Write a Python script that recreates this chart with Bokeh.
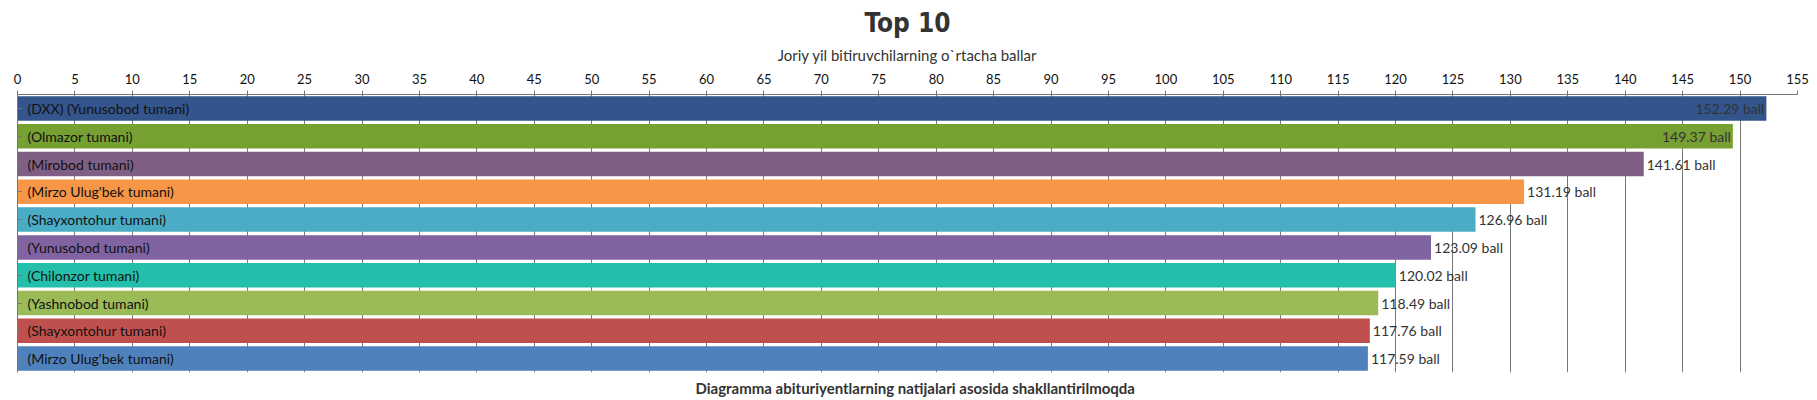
from bokeh.plotting import figure
from bokeh.models import ColumnDataSource, Range1d, SingleIntervalTicker, FixedTicker, Title
from bokeh.core.properties import value
from bokeh.embed import file_html
from bokeh.resources import INLINE

# ---- data (top to bottom) ----
names = [
    "(DXX) (Yunusobod tumani)",
    "(Olmazor tumani)",
    "(Mirobod tumani)",
    "(Mirzo Ulug'bek tumani)",
    "(Shayxontohur tumani)",
    "(Yunusobod tumani)",
    "(Chilonzor tumani)",
    "(Yashnobod tumani)",
    "(Shayxontohur tumani)",
    "(Mirzo Ulug'bek tumani)",
]
scores = [152.29, 149.37, 141.61, 131.19, 126.96, 123.09, 120.02, 118.49, 117.76, 117.59]
colors = ["#33558B", "#77A033", "#7F6084", "#F79647", "#4AACC5",
          "#8064A1", "#23BFAA", "#9BBB58", "#C0504E", "#4F81BC"]
unit = "ball"
title_text = "Top 10"
axis_title = "Joriy yil bitiruvchilarning o`rtacha ballar"
footer_text = "Diagramma abituriyentlarning natijalari asosida shakllantirilmoqda"
x_max = 155

n = len(names)
ypos = [n - 1 - i for i in range(n)]
labels = [f"{v:.2f} {unit}" for v in scores]
inside = [v + 6.6 > x_max for v in scores]

src = ColumnDataSource(dict(y=ypos, v=scores, name=names, color=colors, lab=labels))
src_in = ColumnDataSource(dict(y=[ypos[i] for i in range(n) if inside[i]],
                               v=[scores[i] for i in range(n) if inside[i]],
                               lab=[labels[i] for i in range(n) if inside[i]]))
src_out = ColumnDataSource(dict(y=[ypos[i] for i in range(n) if not inside[i]],
                                v=[scores[i] for i in range(n) if not inside[i]],
                                lab=[labels[i] for i in range(n) if not inside[i]]))

p = figure(width=1817, height=400, output_backend="svg", toolbar_location=None,
           x_range=Range1d(0, x_max), y_range=Range1d(-0.5, n - 0.5),
           x_axis_location="above",
           min_border_left=17, min_border_right=20, min_border_top=93, min_border_bottom=28)
p.outline_line_color = None
p.background_fill_color = "white"
p.border_fill_color = "white"

# title
p.title.text = title_text
p.title.align = "center"
p.title.text_font = "DejaVu Sans Condensed"
p.title.text_font_size = "26px"
p.title.text_font_style = "bold"
p.title.text_color = "#333333"
p.title.standoff = 10

# top value axis
xa = p.xaxis[0]
xa.ticker = SingleIntervalTicker(interval=5, num_minor_ticks=0)
xa.axis_label = axis_title
xa.axis_label_text_font = "Lato"
xa.axis_label_text_font_size = "15px"
xa.axis_label_text_font_style = "normal"
xa.axis_label_text_color = "#333333"
xa.axis_label_standoff = 7
xa.major_label_text_font = "Lato"
xa.major_label_text_font_size = "13px"
xa.major_label_text_color = "#111111"
xa.major_label_standoff = 7
xa.major_tick_out = 4
xa.major_tick_in = 0
xa.minor_tick_out = 0
xa.minor_tick_in = 0
xa.axis_line_color = "#777777"
xa.major_tick_line_color = "#777777"

# left category axis (line and inner ticks only)
ya = p.yaxis[0]
ya.ticker = FixedTicker(ticks=ypos)
ya.major_label_text_font_size = "1px"
ya.major_label_text_color = None
ya.major_label_standoff = 0
ya.major_tick_in = 4
ya.major_tick_out = 0
ya.minor_tick_in = 0
ya.minor_tick_out = 0
ya.axis_line_color = "#777777"
ya.major_tick_line_color = "#777777"

p.xgrid.grid_line_color = "#777777"
p.xgrid.ticker = SingleIntervalTicker(interval=5, num_minor_ticks=0)
p.ygrid.visible = False

p.hbar(y="y", left=0, right="v", height=0.88, fill_color="color", line_color=None, source=src)

p.text(x=0, y="y", text="name", source=src, x_offset=10,
       text_baseline="middle", text_align="left",
       text_font=value("Lato"), text_font_size="14px", text_color="#111111")
p.text(x="v", y="y", text="lab", source=src_in, x_offset=-2,
       text_baseline="middle", text_align="right",
       text_font=value("Lato"), text_font_size="14px", text_color="#333333")
p.text(x="v", y="y", text="lab", source=src_out, x_offset=3,
       text_baseline="middle", text_align="left",
       text_font=value("Lato"), text_font_size="14px", text_color="#333333")

footer = Title(text=footer_text, align="left", offset=678, text_font="Lato",
               text_font_size="15px", text_font_style="bold", text_color="#333333",
               standoff=8)
p.add_layout(footer, "below")

open("out.html", "w").write(file_html(p, INLINE))
